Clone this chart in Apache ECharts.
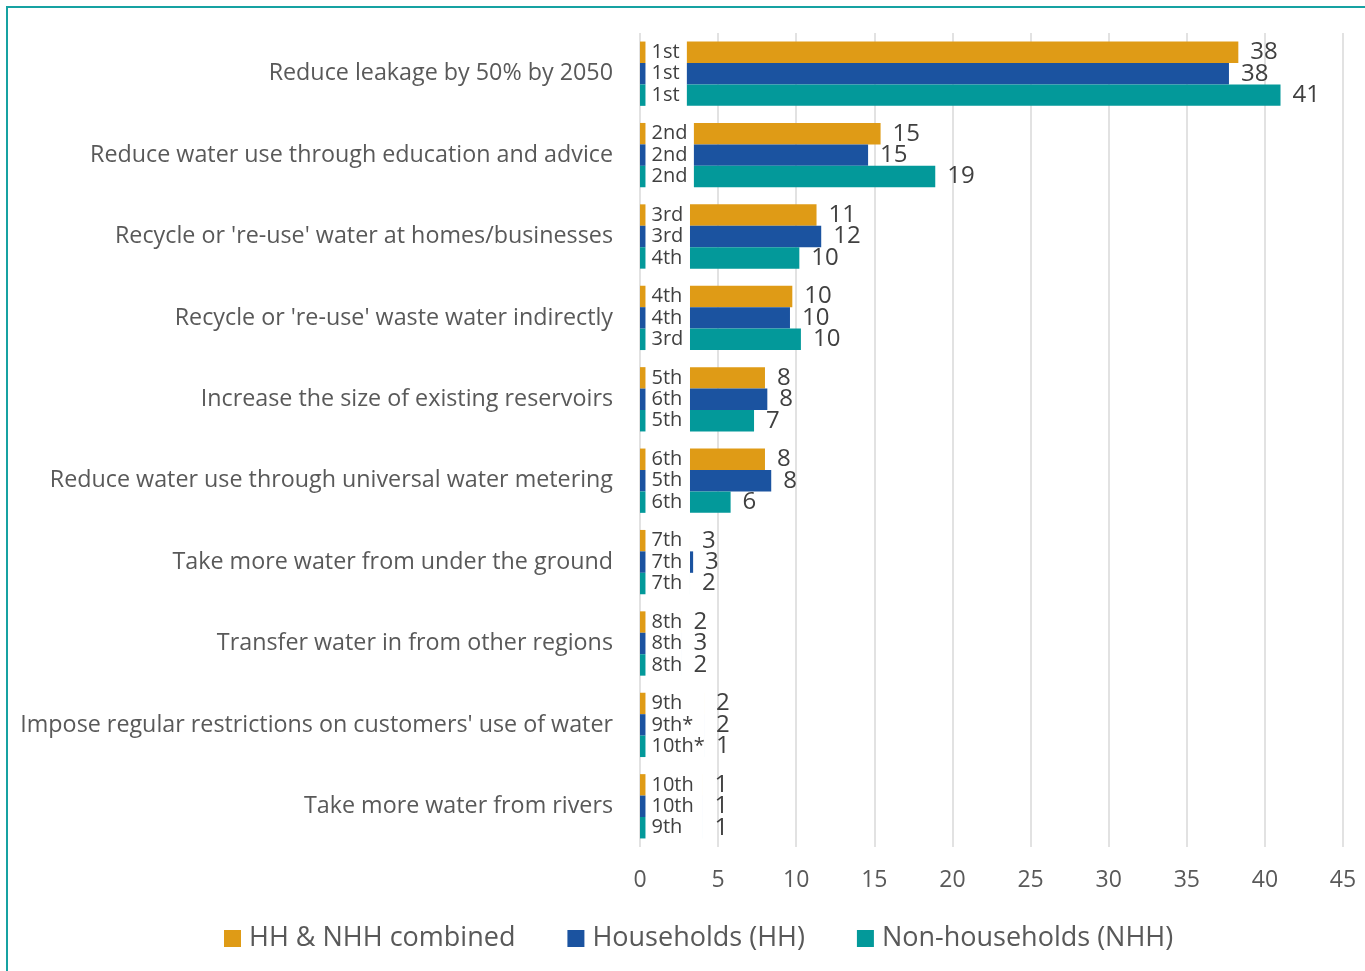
<!DOCTYPE html>
<html>
<head>
<meta charset="utf-8">
<script src="https://cdn.jsdelivr.net/npm/echarts@6/dist/echarts.min.js"></script>
<style>
html,body{margin:0;padding:0;background:#fff;}
#chart{width:1365px;height:971px;}
</style>
</head>
<body>
<div id="chart"></div>
<script>
const categories = [
  'Reduce leakage by 50% by 2050',
  'Reduce water use through education and advice',
  "Recycle or 're-use' water at homes/businesses",
  "Recycle or 're-use' waste water indirectly",
  'Increase the size of existing reservoirs',
  'Reduce water use through universal water metering',
  'Take more water from under the ground',
  'Transfer water in from other regions',
  "Impose regular restrictions on customers' use of water",
  'Take more water from rivers'
];
const seriesNames = ['HH & NHH combined', 'Households (HH)', 'Non-households (NHH)'];
const combinedValues     = [38.3, 15.4, 11.3, 9.75, 8.0, 8.0, 2.9, 2.3, 1.9, 1.0];
const householdValues    = [37.7, 14.6, 11.6, 9.6, 8.15, 8.4, 3.4, 2.6, 2.1, 0.9];
const nonHouseholdValues = [41.0, 18.9, 10.2, 10.3, 7.3, 5.8, 2.2, 2.0, 1.3, 1.0];
const combinedRanks     = ['1st','2nd','3rd','4th','5th','6th','7th','8th','9th','10th'];
const householdRanks    = ['1st','2nd','3rd','4th','6th','5th','7th','8th','9th*','10th'];
const nonHouseholdRanks = ['1st','2nd','4th','3rd','5th','6th','7th','8th','10th*','9th'];
const xMin = 0, xMax = 45, xInterval = 5;

// layout helpers (space reserved for the rank label inside each bar)
const MARK = 0.35;
const rankGap = [3.0, 3.45, 3.2, 3.2, 3.2, 3.2, 3.2, 2.65, 4.1, 4.0];

const colors = ['#DF9B16', '#1B53A0', '#03999A'];
const valueSets = [combinedValues, householdValues, nonHouseholdValues];
const rankSets = [combinedRanks, householdRanks, nonHouseholdRanks];
const FONT = "'Open Sans', 'Noto Sans', sans-serif";

const series = [];
seriesNames.forEach((name, s) => {
  const vals = valueSets[s], ranks = rankSets[s];
  series.push({
    name: name, type: 'bar', stack: 'st' + s, barGap: '0%', barCategoryGap: '21%',
    itemStyle: { color: colors[s] },
    data: vals.map(() => MARK),
    label: {
      show: true, position: 'right', distance: 6,
      fontFamily: FONT, fontSize: 20, color: '#404040',
      formatter: p => ranks[p.dataIndex]
    },
    emphasis: { disabled: true }
  });
  series.push({
    name: 'gap' + s, type: 'bar', stack: 'st' + s,
    itemStyle: { color: 'rgba(0,0,0,0)' },
    data: rankGap.map(g => g - MARK),
    silent: true, emphasis: { disabled: true }
  });
  series.push({
    name: name, type: 'bar', stack: 'st' + s,
    itemStyle: { color: colors[s] },
    data: vals.map((v, i) => Math.max(v - rankGap[i], 0.001)),
    label: {
      show: true, position: 'right', distance: 12,
      fontFamily: FONT, fontSize: 24, color: '#404040',
      formatter: p => String(Math.round(vals[p.dataIndex]))
    },
    emphasis: { disabled: true }
  });
});

const chart = echarts.init(document.getElementById('chart'));
chart.setOption({
  animation: false,
  backgroundColor: '#fff',
  grid: { left: 640, right: 22, top: 33, bottom: 124, containLabel: false },
  legend: {
    data: seriesNames, left: 219, top: 920,
    itemWidth: 17, itemHeight: 17, itemGap: 52,
    icon: 'rect',
    textStyle: { fontFamily: FONT, fontSize: 27, color: '#595959', padding: [0,0,0,3] }
  },
  xAxis: {
    type: 'value', min: xMin, max: xMax, interval: xInterval,
    axisLine: { show: false }, axisTick: { show: false },
    splitLine: { show: true, lineStyle: { color: '#d9d9d9', width: 1.5 } },
    axisLabel: { fontFamily: FONT, fontSize: 23, color: '#595959', margin: 22 }
  },
  yAxis: {
    type: 'category', data: categories, inverse: true,
    axisLine: { show: false }, axisTick: { show: false },
    axisLabel: { fontFamily: FONT, fontSize: 23.3, color: '#595959', margin: 27 }
  },
  graphic: [
    { type: 'line', shape: { x1: 6, y1: 7, x2: 1365, y2: 7 }, style: { stroke: '#17A2A2', lineWidth: 2 } },
    { type: 'line', shape: { x1: 7, y1: 7, x2: 7, y2: 971 }, style: { stroke: '#17A2A2', lineWidth: 2 } }
  ],
  series: series
});
</script>
</body>
</html>
